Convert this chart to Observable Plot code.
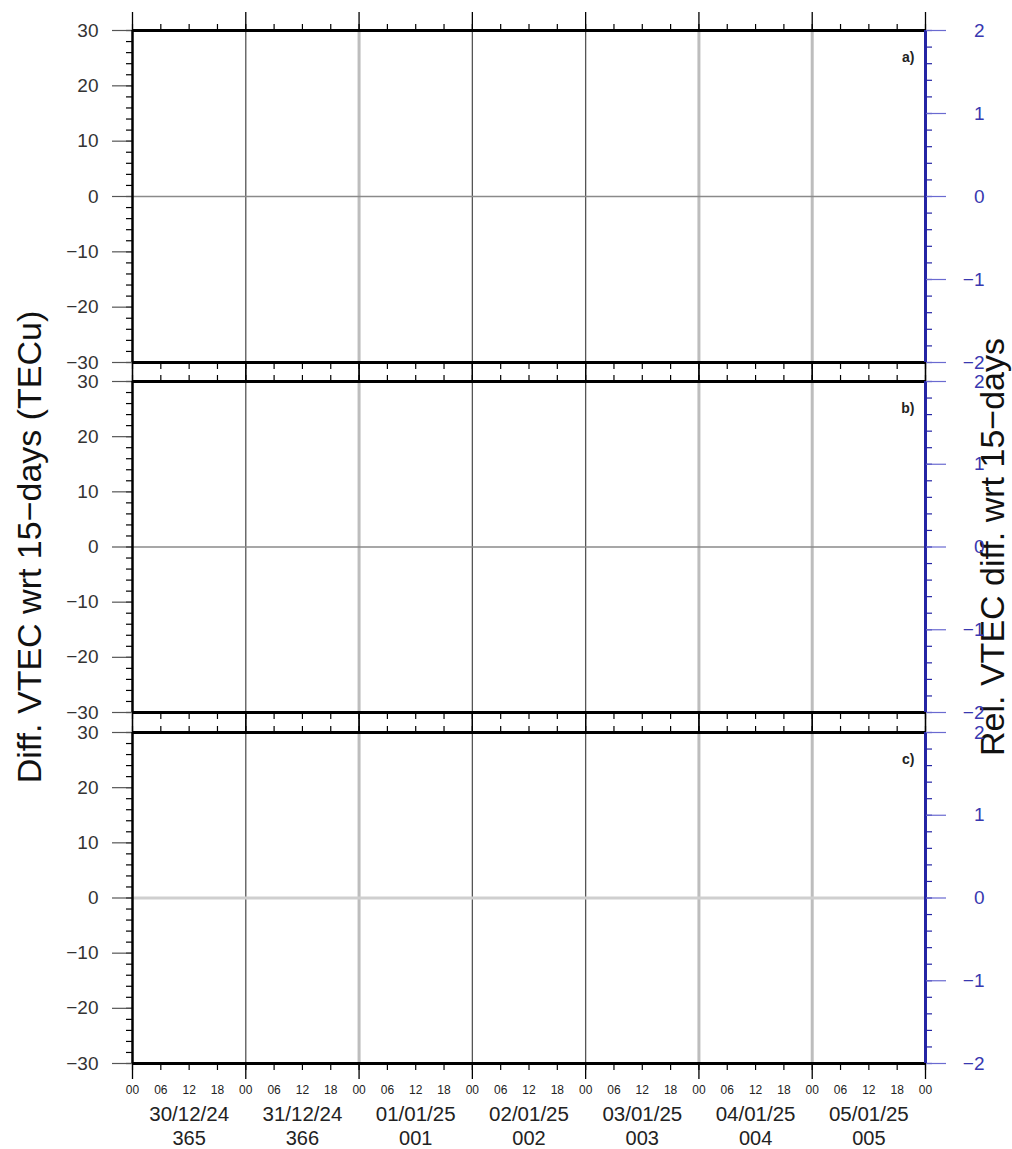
<!DOCTYPE html>
<html>
<head>
<meta charset="utf-8">
<script src="https://cdn.jsdelivr.net/npm/d3@7"></script>
<script src="https://cdn.jsdelivr.net/npm/@observablehq/plot@0.6"></script>
<style>
  body { margin: 0; background: #fff; }
  #chart { position: relative; width: 1012px; height: 1149px; overflow: hidden; background: #fff; }
  #chart svg { position: absolute; left: 0; top: 0; }
</style>
</head>
<body>
<div id="chart"></div>
<script>
// ---- data ----
const dayLabels = ["30/12/24", "31/12/24", "01/01/25", "02/01/25", "03/01/25", "04/01/25", "05/01/25"];
const doyLabels = ["365", "366", "001", "002", "003", "004", "005"];
const hourLabels = ["00", "06", "12", "18"];
const panelLabels = ["a)", "b)", "c)"];
const leftTicks = [-30, -20, -10, 0, 10, 20, 30];
const rightTicks = [-2, -1, 0, 1, 2];
const gridDark = ["2024-12-31", "2025-01-02", "2025-01-03"];
const gridLight = ["2025-01-01", "2025-01-04", "2025-01-05"];
const zeroLineStyle = [
  {stroke: "#8a8a8a", strokeWidth: 1.5},
  {stroke: "#8a8a8a", strokeWidth: 1.5},
  {stroke: "#cfcfcf", strokeWidth: 3}
];
const leftTitle = "Diff. VTEC wrt 15\u2212days (TECu)";
const rightTitle = "Rel. VTEC diff. wrt 15\u2212days";

// ---- layout ----
const W = 1012, H = 1149;
const ML = 132, MR = 87;
const panels = [{top: 30, bottom: 362}, {top: 381, bottom: 712}, {top: 732, bottom: 1063}];
const BLUE = "#2424a4";
const BLUE_TEXT = "#3838b0";
const FONT = "'Liberation Sans', Arial, Helvetica, sans-serif";

const t0 = new Date(Date.UTC(2024, 11, 30));
const t1 = new Date(Date.UTC(2025, 0, 6));
const dayStarts = d3.utcDay.range(t0, new Date(+t1 + 1));
const sixHours = d3.utcHour.every(6).range(t0, new Date(+t1 + 1));
const leftMinor = d3.range(-30, 31, 2);
const rightMinor = d3.range(-10, 11, 1).map(d => d / 5);

const hourData = sixHours.map(d => ({date: d, label: hourLabels[d.getUTCHours() / 6]}));
const dayData = dayLabels.map((label, i) => ({
  date: new Date(+t0 + (i + 0.5) * 864e5),
  label,
  doy: doyLabels[i]
}));
const parseDay = s => new Date(s + "T00:00:00Z");
const intFormat = d => (d < 0 ? "\u2212" : "") + Math.abs(d);

const baseStyle = {fontFamily: FONT, background: "transparent", overflow: "visible", color: "#000"};

function panelPlot(i) {
  const {top, bottom} = panels[i];
  const last = i === panels.length - 1;
  const marks = [
    // day grid lines
    Plot.ruleX(gridDark.map(parseDay), {stroke: "#555", strokeWidth: 1.3}),
    Plot.ruleX(gridLight.map(parseDay), {stroke: "#bdbdbd", strokeWidth: 3}),
    Plot.ruleY([0], zeroLineStyle[i]),
    // time ticks, top and bottom
    Plot.axisX({anchor: "top", ticks: sixHours, tickSize: 7, text: null, label: null, strokeWidth: 1.2}),
    Plot.axisX({anchor: "top", ticks: dayStarts, tickSize: 19, text: null, label: null, strokeWidth: 1.3}),
    Plot.axisX({anchor: "bottom", ticks: sixHours, tickSize: 7, text: null, label: null, strokeWidth: 1.2}),
    Plot.axisX({anchor: "bottom", ticks: dayStarts, tickSize: last ? 16 : 19, text: null, label: null, strokeWidth: 1.3}),
    // left value axis
    Plot.axisY({anchor: "left", ticks: leftMinor, tickSize: 6, text: null, label: null, strokeWidth: 1.2}),
    Plot.axisY({anchor: "left", ticks: leftTicks, tickSize: 20, tickPadding: 14, tickFormat: intFormat, label: null,
      fontSize: 19, fill: "#333", stroke: "#555", strokeWidth: 1.2}),
    // panel frame
    Plot.ruleY([-30, 30], {stroke: "#000", strokeWidth: 3}),
    Plot.ruleX([t0], {stroke: "#000", strokeWidth: 2.5}),
    Plot.ruleX([t1], {stroke: BLUE, strokeWidth: 3}),
    Plot.text([panelLabels[i]], {frameAnchor: "top-right", dx: -11, dy: 27, lineAnchor: "middle", textAnchor: "end",
      fontWeight: "bold", fontSize: 14, fill: "#222"})
  ];
  if (i === 1) {
    marks.push(
      Plot.text([leftTitle], {frameAnchor: "left", dx: -102, rotate: -90, textAnchor: "middle",
        fontSize: 34, fill: "#111"}),
      Plot.text([rightTitle], {frameAnchor: "right", dx: 68, rotate: -90, textAnchor: "middle",
        fontSize: 34, fill: "#111"})
    );
  }
  if (last) {
    marks.push(
      Plot.text(hourData, {x: "date", text: "label", frameAnchor: "bottom", dy: 27, lineAnchor: "middle", fontSize: 12, fill: "#222"}),
      Plot.text(dayData, {x: "date", text: "label", frameAnchor: "bottom", dy: 51, lineAnchor: "middle", fontSize: 20.5, fill: "#222"}),
      Plot.text(dayData, {x: "date", text: "doy", frameAnchor: "bottom", dy: 75, lineAnchor: "middle", fontSize: 20, fill: "#222"})
    );
  }
  return Plot.plot({
    width: W, height: H,
    marginLeft: ML, marginRight: MR, marginTop: top, marginBottom: H - bottom,
    x: {type: "utc", domain: [t0, t1]},
    y: {domain: [-30, 30]},
    style: baseStyle,
    marks
  });
}

// blue relative-difference axis on the right of each panel
function rightAxisPlot(i) {
  const {top, bottom} = panels[i];
  return Plot.plot({
    width: W, height: H,
    marginLeft: ML, marginRight: MR, marginTop: top, marginBottom: H - bottom,
    y: {domain: [-2, 2]},
    style: baseStyle,
    marks: [
      Plot.axisY({anchor: "right", ticks: rightMinor, tickSize: 6, text: null, label: null,
        stroke: BLUE, strokeWidth: 1.2}),
      Plot.axisY({anchor: "right", ticks: rightTicks, tickSize: 20, tickPadding: 39, textAnchor: "end",
        tickFormat: intFormat, label: null, fontSize: 19, fill: BLUE_TEXT, stroke: "#6a6ad0", strokeWidth: 1.2})
    ]
  });
}

const chart = document.getElementById("chart");
panels.forEach((_, i) => {
  chart.appendChild(panelPlot(i));
  chart.appendChild(rightAxisPlot(i));
});
</script>
</body>
</html>
